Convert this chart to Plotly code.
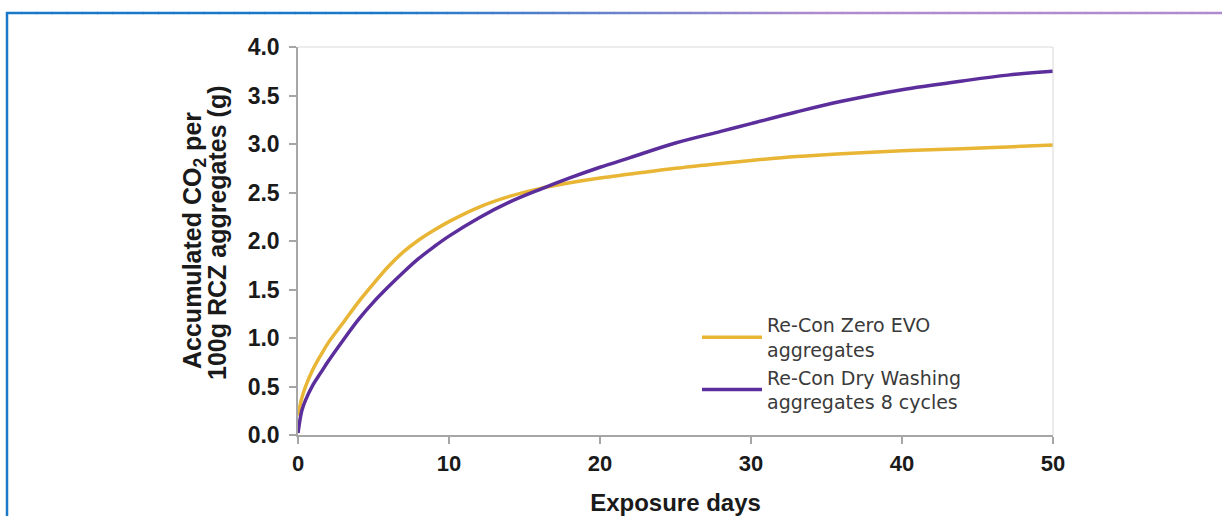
import plotly.graph_objects as go

# ---- data ----
days = [0, 0.25, 0.5, 1, 1.5, 2, 3, 4, 5, 6, 7, 8, 9, 10, 12, 14, 16, 18, 20,
        22, 25, 28, 30, 33, 36, 40, 44, 47, 50]
zero_evo = [0.2, 0.38, 0.5, 0.68, 0.82, 0.95, 1.16, 1.37, 1.56, 1.74, 1.89, 2.01,
            2.11, 2.2, 2.35, 2.46, 2.54, 2.6, 2.65, 2.69, 2.75, 2.8, 2.83, 2.87,
            2.9, 2.93, 2.95, 2.97, 2.99]
dry_washing = [0.02, 0.25, 0.36, 0.52, 0.64, 0.76, 0.98, 1.19, 1.37, 1.53, 1.68,
               1.82, 1.94, 2.05, 2.24, 2.4, 2.53, 2.65, 2.76, 2.86, 3.01, 3.13,
               3.21, 3.33, 3.44, 3.56, 3.65, 3.71, 3.75]
x_ticks = [0, 10, 20, 30, 40, 50]
y_ticks = [0.0, 0.5, 1.0, 1.5, 2.0, 2.5, 3.0, 3.5, 4.0]
names = ["Re-Con Zero EVO<br>aggregates", "Re-Con Dry Washing<br>aggregates 8 cycles"]

W, H = 1222, 516
L, R, T, B = 298, 169, 47, 81
pw, ph = W - L - R, H - T - B


def px(xp):
    return (xp - L) / pw


def py(yp):
    return (H - B - yp) / ph


fig = go.Figure()
fig.add_trace(go.Scatter(x=days, y=zero_evo, mode="lines", name=names[0],
                         line=dict(color="#E8B535", width=3.5, shape="spline")))
fig.add_trace(go.Scatter(x=days, y=dry_washing, mode="lines", name=names[1],
                         line=dict(color="#5B2E9C", width=3.5, shape="spline")))

fam = "Liberation Sans, Arial, sans-serif"

fig.update_xaxes(range=[0, 50], tickvals=x_ticks, ticktext=[str(v) for v in x_ticks],
                 showgrid=False, zeroline=False, showline=True, linecolor="#A6A6A6",
                 linewidth=1.5, ticks="outside", ticklen=7, tickcolor="#A6A6A6",
                 tickwidth=1.5,
                 tickfont=dict(family=fam, size=22, color="#1a1a1a", weight="bold"),
                 ticklabelstandoff=1,
                 title=dict(text="<b>Exposure days</b>", standoff=19,
                            font=dict(family=fam, size=24, color="#1a1a1a")))
fig.update_yaxes(range=[0, 4], tickvals=y_ticks, ticktext=[f"{v:.1f}" for v in y_ticks],
                 showgrid=False, zeroline=False, showline=True, linecolor="#A6A6A6",
                 linewidth=1.5, ticks="outside", ticklen=7, tickcolor="#A6A6A6",
                 tickwidth=1.5,
                 tickfont=dict(family=fam, size=23, color="#1a1a1a", weight="bold"),
                 ticklabelstandoff=5)

# y-axis title as two tightly spaced rotated lines
title_font = dict(family=fam, size=25, color="#1a1a1a")
fig.add_annotation(x=px(194), y=py(241), xref="paper", yref="paper",
                   text="<b>Accumulated CO<sub>2</sub> per</b>", textangle=-90,
                   showarrow=False, xanchor="center", yanchor="middle", font=title_font)
fig.add_annotation(x=px(217), y=py(233), xref="paper", yref="paper",
                   text="<b>100g RCZ aggregates (g)</b>", textangle=-90,
                   showarrow=False, xanchor="center", yanchor="middle", font=title_font)

shapes = []
# light plot-area border (top and right)
shapes.append(dict(type="line", xref="paper", yref="paper", x0=0, x1=1, y0=1, y1=1,
                   line=dict(color="#D9D9D9", width=1)))
shapes.append(dict(type="line", xref="paper", yref="paper", x0=1, x1=1, y0=0, y1=1,
                   line=dict(color="#D9D9D9", width=1)))

# decorative frame: gradient top line and blue left line
c0 = (0x1A, 0x78, 0xC8)
c1 = (0xB0, 0x8A, 0xCE)
n = 80
x_start, x_end = 6, 1222
for i in range(n):
    a = x_start + (x_end - x_start) * i / n
    b = x_start + (x_end - x_start) * (i + 1) / n
    m = (a + b) / 2
    t = min(max((m - 380) / (820 - 380), 0), 1)
    col = "rgb({},{},{})".format(*[round(c0[k] + (c1[k] - c0[k]) * t) for k in range(3)])
    shapes.append(dict(type="line", xref="paper", yref="paper", x0=px(a), x1=px(b) + 0.001,
                       y0=py(13), y1=py(13), line=dict(color=col, width=2.5)))
shapes.append(dict(type="line", xref="paper", yref="paper", x0=px(7), x1=px(7),
                   y0=py(12), y1=py(520), line=dict(color="rgb(26,120,200)", width=2.5)))
fig.update_layout(shapes=shapes)

fig.update_layout(
    width=W, height=H,
    margin=dict(l=L, r=R, t=T, b=B, autoexpand=False),
    paper_bgcolor="white", plot_bgcolor="white",
    showlegend=True,
    legend=dict(x=px(697), y=py(306), xanchor="left", yanchor="top",
                bgcolor="rgba(0,0,0,0)", borderwidth=0,
                font=dict(family="DejaVu Sans, sans-serif", size=19, color="#3a3a3a"),
                tracegroupgap=4, itemwidth=60),
)

fig.write_html("out.html", config={"displayModeBar": False},
               post_script="document.body.style.margin='0';")
